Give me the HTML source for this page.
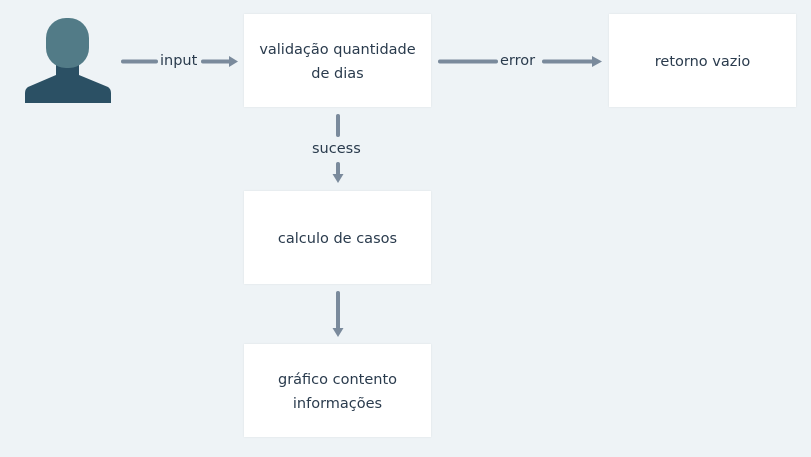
<!DOCTYPE html>
<html><head><meta charset="utf-8"><style>
body{margin:0;width:811px;height:457px;background:#eef3f6;position:relative;overflow:hidden;font-family:"DejaVu Sans","Liberation Sans",sans-serif;}
.b{position:absolute;background:#fff;width:187px;height:93px;box-shadow:0 0 2px rgba(0,0,0,0.08);display:flex;align-items:center;justify-content:center;text-align:center;font-size:14.5px;color:#2a3b4d;line-height:24px;padding-top:3px;box-sizing:border-box}
.l{position:absolute;font-size:14.5px;color:#2a3b4d;}
</style></head><body>
<svg width="811" height="457" style="position:absolute;left:0;top:0">
<rect x="56" y="58" width="23" height="20" fill="#2b5064"/>
<path d="M56 75 L28 87 Q25 89 25 93 L25 103 L111 103 L111 93 Q111 89 108 87 L79 75 Z" fill="#2b5064"/>
<rect x="46" y="18" width="43" height="50" rx="20" ry="20" fill="#527b87"/>
<g stroke="#7a8a9c" stroke-width="4" stroke-linecap="round" fill="#7a8a9c">
<line x1="123" y1="61.5" x2="156" y2="61.5"/>
<line x1="203" y1="61.5" x2="230" y2="61.5"/>
<line x1="440" y1="61.5" x2="496" y2="61.5"/>
<line x1="544" y1="61.5" x2="592" y2="61.5"/>
<line x1="338" y1="116" x2="338" y2="135"/>
<line x1="338" y1="164" x2="338" y2="175"/>
<line x1="338" y1="293" x2="338" y2="328"/>
</g>
<g fill="#7a8a9c">
<path d="M229 56 L238 61.5 L229 67 Z"/>
<path d="M592 56 L602 61.5 L592 67 Z"/>
<path d="M332.5 174 L338 183 L343.5 174 Z"/>
<path d="M332.5 328 L338 337 L343.5 328 Z"/>
</g>
</svg>
<div class="l" style="left:160px;top:53px">input</div>
<div class="l" style="left:500px;top:53px">error</div>
<div class="l" style="left:312px;top:141px">sucess</div>
<div class="b" style="left:244px;top:14px">validação quantidade<br>de dias</div>
<div class="b" style="left:609px;top:14px">retorno vazio</div>
<div class="b" style="left:244px;top:191px">calculo de casos</div>
<div class="b" style="left:244px;top:344px">gráfico contento<br>informações</div>
</body></html>
